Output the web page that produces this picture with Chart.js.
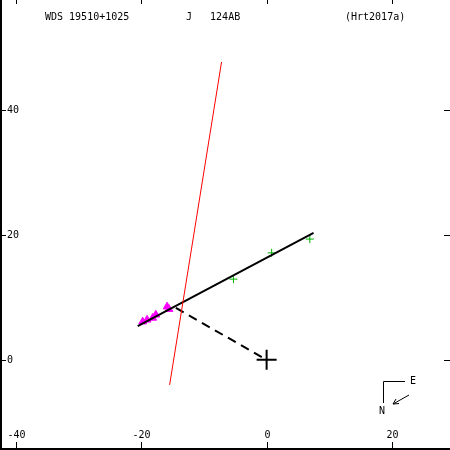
<!DOCTYPE html>
<html>
<head>
<meta charset="utf-8">
<script src="https://cdn.jsdelivr.net/npm/chart.js@4"></script>
<style>
  html, body { margin: 0; padding: 0; background: #fff; }
  #wrap { width: 450px; height: 450px; }
</style>
</head>
<body>
<div id="wrap"><canvas id="orbit"></canvas></div>
<script>
// Tick labels on the axes
const xTicks = [-40, -20, 0, 20];
const yTicks = [0, 20, 40];

// Measured positions (green) and other measures (magenta)
const greenX = [-5.3, 0.8, 6.9];
const greenY = [12.9, 17.1, 19.3];
const magentaX = [-19.8, -19.1, -18.2, -17.7, -15.9, -15.6];
const magentaY = [6.1, 6.4, 6.7, 7.2, 8.5, 8.1];

// Lines: orbit (black), node line (red), periastron link (dashed)
const orbitX = [-20.6, 7.5];
const orbitY = [5.4, 20.3];
const nodeX = [-7.2, -15.5];
const nodeY = [47.6, -4.0];
const periX = [-14.5, 0];
const periY = [8.3, 0];

const title = ['WDS 19510+1025', 'J   124AB', '(Hrt2017a)'];

const pts = (xs, ys) => xs.map((x, i) => ({ x, y: ys[i] }));

const FONT = '10px "DejaVu Sans Mono", monospace';

// Frame, ticks, labels, title and the N/E compass
const decorations = {
    id: 'decorations',
    afterDraw(chart) {
        const ctx = chart.ctx;
        const xs = chart.scales.x;
        const ys = chart.scales.y;
        const W = chart.width, H = chart.height;
        ctx.save();
        ctx.strokeStyle = '#000';
        ctx.fillStyle = '#000';
        ctx.lineWidth = 2;
        ctx.beginPath();
        ctx.moveTo(1, 0); ctx.lineTo(1, H - 1); ctx.lineTo(W, H - 1);
        ctx.stroke();

        ctx.lineWidth = 1;
        ctx.font = FONT;
        ctx.textBaseline = 'middle';
        xTicks.forEach(v => {
            const px = Math.round(xs.getPixelForValue(v)) + 0.5;
            ctx.beginPath();
            ctx.moveTo(px, 0); ctx.lineTo(px, 4);
            ctx.moveTo(px, H - 8); ctx.lineTo(px, H);
            ctx.stroke();
            ctx.textAlign = 'center';
            ctx.fillText(String(v), px, H - 15);
        });
        yTicks.forEach(v => {
            const py = Math.round(ys.getPixelForValue(v)) + 0.5;
            ctx.beginPath();
            ctx.moveTo(0, py); ctx.lineTo(6, py);
            ctx.moveTo(W - 6, py); ctx.lineTo(W, py);
            ctx.stroke();
            ctx.textAlign = 'left';
            ctx.fillText(String(v), 7, py);
        });

        ctx.textAlign = 'left';
        ctx.fillText(title[0], 45, 17);
        ctx.fillText(title[1], 186, 17);
        ctx.fillText(title[2], 345, 17);

        // compass
        ctx.beginPath();
        ctx.moveTo(405, 381.5); ctx.lineTo(383.5, 381.5); ctx.lineTo(383.5, 403);
        ctx.moveTo(409, 395); ctx.lineTo(393, 404);
        ctx.moveTo(393, 404); ctx.lineTo(399, 403.5);
        ctx.moveTo(393, 404); ctx.lineTo(396, 399);
        ctx.stroke();
        ctx.textAlign = 'center';
        ctx.fillText('E', 413, 381);
        ctx.fillText('N', 382, 411);
        ctx.restore();
    }
};

new Chart(document.getElementById('orbit'), {
    type: 'scatter',
    data: {
        datasets: [
            { data: pts(nodeX, nodeY), showLine: true, borderColor: '#ff0000', borderWidth: 1, pointRadius: 0 },
            { data: pts(orbitX, orbitY), showLine: true, borderColor: '#000', borderWidth: 2, pointRadius: 0 },
            { data: pts(periX, periY), showLine: true, borderColor: '#000', borderWidth: 2, borderDash: [9, 6], pointRadius: 0 },
            { data: pts(magentaX, magentaY), pointStyle: 'triangle', pointRadius: 4.5, backgroundColor: '#ff00ff', borderColor: '#ff00ff', borderWidth: 1 },
            { data: pts(greenX, greenY), pointStyle: 'cross', pointRadius: 4, borderColor: '#00b000', borderWidth: 1 },
            { data: [{ x: 0, y: 0 }], pointStyle: 'cross', pointRadius: 10, borderColor: '#000', borderWidth: 2 }
        ]
    },
    options: {
        responsive: true,
        maintainAspectRatio: false,
        animation: false,
        layout: { padding: 0, autoPadding: false },
        scales: {
            x: { type: 'linear', min: -42.6, max: 29.3, display: false },
            y: { type: 'linear', min: -14.4, max: 57.5, display: false }
        },
        plugins: {
            legend: { display: false },
            tooltip: { enabled: false }
        }
    },
    plugins: [decorations]
});
</script>
</body>
</html>
